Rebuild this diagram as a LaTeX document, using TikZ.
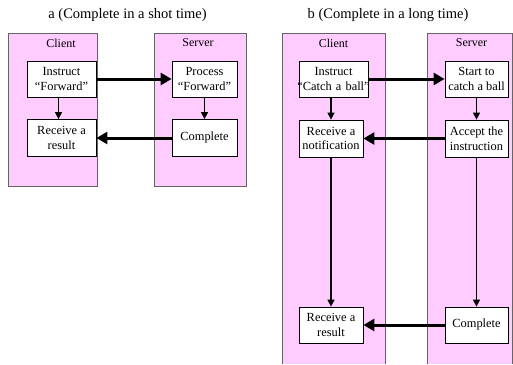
\documentclass[tikz,border=0pt]{standalone}
\usepackage{fontspec}
\setmainfont{Liberation Serif}
\usetikzlibrary{arrows.meta}
\definecolor{lanepink}{RGB}{255,204,255}
\definecolor{laneline}{RGB}{100,100,100}
\tikzset{
  lanefill/.style={fill=lanepink},
  laneedge/.style={draw=laneline, line width=0.9pt},
  lanelabel/.style={font=\fontsize{12}{14}\selectfont, inner sep=0pt},
  titlelabel/.style={font=\fontsize{14.5}{16}\selectfont, inner sep=0pt},
  stepbox/.style={draw=black, line width=0.8pt, fill=white, align=center, inner sep=0pt,
    font=\fontsize{12.4}{14.8}\selectfont},
  bigarrow/.style={line width=3pt, -{Triangle[length=11pt,width=12pt]}},
  smallarrow/.style={line width=1.4pt, -{Triangle[length=7pt,width=7pt]}}
}
\begin{document}
\begin{tikzpicture}[x=1pt,y=-1pt]
\useasboundingbox (0,0) rectangle (513,364);
% titles
\node[titlelabel] (ta) at (127.5,15) {a (Complete in a shot time)};
\node[titlelabel] (tb) at (388,15) {b (Complete in a long time)};
% lanes panel a
\fill[lanefill] (8,33) rectangle (97,186);
\draw[laneedge] (8,33) rectangle (97,186);
\fill[lanefill] (154,33) rectangle (246,186);
\draw[laneedge] (154,33) rectangle (246,186);
% lanes panel b
\fill[lanefill] (282,33) rectangle (385,364);
\draw[laneedge] (282,364) |- (385,33) -- (385,364);
\fill[lanefill] (427,33) rectangle (513,364);
\draw[laneedge] (427,364) |- (512.5,33) -- (512.5,364);
% lane labels
\node[lanelabel] (acl) at (61,43) {Client};
\node[lanelabel] (asl) at (198,43) {Server};
\node[lanelabel] (bcl) at (333.5,43) {Client};
\node[lanelabel] (bsl) at (471.5,43) {Server};
% panel a boxes
\node[stepbox, minimum width=69pt, minimum height=36pt] (a1) at (61.5,79) {Instruct\\“Forward”};
\node[stepbox, minimum width=69pt, minimum height=37pt] (a2) at (61.5,138) {Receive a\\result};
\node[stepbox, minimum width=65pt, minimum height=36pt] (a3) at (204.5,79) {Process\\“Forward”};
\node[stepbox, minimum width=65pt, minimum height=37pt] (a4) at (204.5,138) {Complete};
% panel b boxes
\node[stepbox, minimum width=69pt, minimum height=36pt, text width=69pt] (b1) at (333.5,79) {Instruct\\\makebox[69pt][c]{“Catch a ball”}};
\node[stepbox, minimum width=64pt, minimum height=37pt] (b2) at (331,138.5) {Receive a\\notification};
\node[stepbox, minimum width=64pt, minimum height=36pt] (b3) at (331,325) {Receive a\\result};
\node[stepbox, minimum width=63pt, minimum height=36pt] (b4) at (476.5,79) {Start to\\catch a ball};
\node[stepbox, minimum width=63pt, minimum height=37pt] (b5) at (476.5,138.5) {Accept the\\instruction};
\node[stepbox, minimum width=63pt, minimum height=36pt] (b6) at (476.5,325) {Complete};
% panel a arrows
\draw[bigarrow] (a1.east) -- (a3.west);
\draw[bigarrow] (a4.west) -- (a2.east);
\draw[smallarrow] ([xshift=-3pt]a1.south) -- ([xshift=-3pt]a2.north);
\draw[smallarrow] (a3.south) -- (a4.north);
% panel b arrows
\draw[bigarrow] (b1.east) -- (b4.west);
\draw[bigarrow] (b5.west) -- (b2.east);
\draw[bigarrow] (b6.west) -- (b3.east);
\draw[smallarrow] (b2.north |- b1.south) -- (b2.north);
\draw[smallarrow] (b2.south) -- (b3.north);
\draw[smallarrow] (b4.south) -- (b5.north);
\draw[smallarrow] (b5.south) -- (b6.north);
\end{tikzpicture}
\end{document}
